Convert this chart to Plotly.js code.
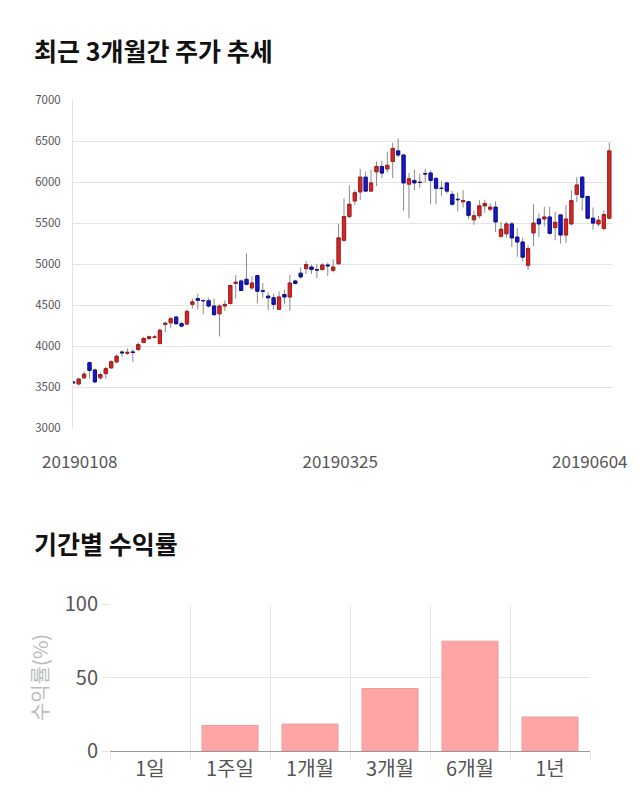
<!DOCTYPE html>
<html>
<head>
<meta charset="utf-8">
<script src="https://cdn.plot.ly/plotly-3.0.1.min.js"></script>
<style>
html,body{margin:0;padding:0;background:#fff;}
#chart{width:640px;height:810px;}
</style>
</head>
<body>
<div id="chart"></div>
<script>
// ---- Stock candles (last 3 months) ----
const dates = [
 '20190108','20190109','20190110','20190111','20190114','20190115','20190116','20190117','20190118','20190121',
 '20190122','20190123','20190124','20190125','20190128','20190129','20190130','20190131','20190201','20190207',
 '20190208','20190211','20190212','20190213','20190214','20190215','20190218','20190219','20190220','20190221',
 '20190222','20190225','20190226','20190227','20190228','20190304','20190305','20190306','20190307','20190308',
 '20190311','20190312','20190313','20190314','20190315','20190318','20190319','20190320','20190321','20190322',
 '20190325','20190326','20190327','20190328','20190329','20190401','20190402','20190403','20190404','20190405',
 '20190408','20190409','20190410','20190411','20190412','20190415','20190416','20190417','20190418','20190419',
 '20190422','20190423','20190424','20190425','20190426','20190429','20190430','20190502','20190503','20190507',
 '20190508','20190509','20190510','20190513','20190514','20190515','20190516','20190517','20190520','20190521',
 '20190522','20190523','20190524','20190527','20190528','20190529','20190530','20190531','20190603','20190604'
];
const openP = [
 3565,3540,3615,3800,3710,3615,3666,3736,3809,3930,
 3915,3930,3960,4045,4095,4110,4033,4265,4285,4355,
 4275,4270,4510,4580,4558,4555,4490,4395,4490,4520,
 4765,4795,4815,4710,4860,4675,4610,4590,4450,4630,
 4600,4795,4890,4945,4965,4932,4935,4990,4925,5005,
 5290,5580,5770,5880,6060,5890,6125,6190,6160,6250,
 6380,6330,5975,6020,5998,6105,6110,6045,5925,5990,
 5850,5790,5760,5760,5540,5590,5710,5670,5695,5340,
 5370,5490,5330,5270,4985,5380,5550,5550,5575,5445,
 5600,5355,5490,5850,6060,5825,5560,5490,5435,5560
];
const highP = [
 3575,3615,3690,3810,3730,3680,3750,3830,3900,3950,
 3975,3970,4050,4115,4130,4135,4215,4300,4360,4370,
 4300,4445,4580,4640,4565,4590,4580,4510,4560,4750,
 4870,4815,5130,4850,4860,4770,4660,4640,4670,4690,
 4870,4810,4960,5040,4995,5000,5010,5020,5060,5490,
 5800,5960,5905,6160,6130,6150,6250,6260,6370,6480,
 6530,6330,6110,6150,6100,6160,6140,6060,6010,6010,
 5890,5870,5900,5770,5650,5780,5785,5740,5765,5515,
 5515,5515,5440,5320,5230,5730,5620,5700,5700,5635,
 5600,5720,5900,6060,6075,5825,5690,5590,5655,6480
];
const lowP = [
 3550,3525,3600,3605,3560,3590,3605,3725,3790,3870,
 3895,3810,3940,4035,4075,4095,4020,4170,4220,4260,
 4230,4260,4460,4450,4390,4470,4370,4120,4430,4510,
 4580,4675,4740,4690,4520,4590,4440,4450,4440,4510,
 4430,4750,4820,4880,4880,4830,4920,4855,4900,4995,
 5280,5560,5720,5780,5880,5880,5950,6050,6120,6050,
 6300,5650,5560,5900,5930,5995,5730,5730,5830,5860,
 5710,5640,5690,5550,5480,5560,5625,5645,5390,5320,
 5320,5210,5090,5035,4930,5220,5330,5460,5360,5290,
 5250,5260,5480,5760,5650,5545,5420,5460,5410,5555
];
const closeP = [
 3555,3600,3660,3705,3565,3655,3727,3810,3878,3920,
 3925,3925,4020,4095,4115,4112,4195,4280,4335,4275,
 4245,4425,4540,4560,4555,4490,4385,4490,4510,4740,
 4780,4680,4755,4770,4670,4670,4590,4510,4600,4600,
 4770,4765,4845,4995,4935,4930,4990,4980,4965,5320,
 5580,5730,5870,6060,5890,5990,6190,6110,6205,6410,
 6330,5990,6040,5990,5995,6100,6020,5925,5922,5890,
 5730,5786,5775,5595,5590,5710,5740,5695,5515,5425,
 5490,5320,5270,5085,5190,5500,5490,5575,5375,5510,
 5355,5550,5775,5965,5815,5560,5500,5535,5605,6380
];
const xTickDates = ['20190108','20190325','20190604'];

// ---- Period returns ----
const periods = ['1일','1주일','1개월','3개월','6개월','1년'];
const returnsPct = [0, 17.4, 18.3, 42.5, 74.7, 23.1];

// body-only bounds derived from open/close (so wicks can be grey underneath)
const bodyHigh = openP.map((o,i)=>Math.max(o, closeP[i]));
const bodyLow  = openP.map((o,i)=>Math.min(o, closeP[i]));

const W = 640, H = 810;
const px = (a,b)=>[a/W, b/W];
const py = (top,bottom)=>[(H-bottom)/H, (H-top)/H];

const wickTrace = {
  type:'candlestick', x:dates, open:openP, high:highP, low:lowP, close:closeP,
  xaxis:'x', yaxis:'y', hoverinfo:'skip', showlegend:false,
  increasing:{line:{color:'#8a8a8a', width:1}, fillcolor:'#8a8a8a'},
  decreasing:{line:{color:'#8a8a8a', width:1}, fillcolor:'#8a8a8a'},
  whiskerwidth:0
};
const bodyTrace = {
  type:'candlestick', x:dates, open:openP, high:bodyHigh, low:bodyLow, close:closeP,
  xaxis:'x', yaxis:'y', showlegend:false,
  increasing:{line:{color:'#a81c1c', width:1}, fillcolor:'#d82626'},
  decreasing:{line:{color:'#0e0e98', width:1}, fillcolor:'#1818c8'},
  whiskerwidth:0
};
const barTrace = {
  type:'bar', x:periods, y:returnsPct, xaxis:'x2', yaxis:'y2', showlegend:false,
  marker:{color:'#ffa5a5', line:{color:'#ee9a9a', width:returnsPct.map(v=>v>0?1:0)}},
  width:0.7
};

const kr = '"Noto Sans CJK KR", "Noto Sans", sans-serif';

const layout = {
  width:W, height:H,
  margin:{l:0, r:0, t:0, b:0},
  paper_bgcolor:'#fff', plot_bgcolor:'#fff',
  font:{family:kr, color:'#555'},
  boxgap:0.15,
  showlegend:false,
  xaxis:{
    domain:px(73, 612),
    type:'category',
    range:[-0.05, 99.5],
    rangeslider:{visible:false},
    showgrid:false, zeroline:false, showline:false,
    tickmode:'array',
    tickvals:[1.2, 49.3, 95.4],
    ticktext:xTickDates,
    ticks:'', ticklabelstandoff:22,
    tickfont:{family:kr, size:17, color:'#555'},
    fixedrange:true
  },
  yaxis:{
    domain:py(100, 428.3),
    range:[3000, 7000],
    tickmode:'array',
    tickvals:[3000,3500,4000,4500,5000,5500,6000,6500,7000],
    showgrid:true, gridcolor:'#e3e3e3', gridwidth:1,
    zeroline:false, showline:true, linecolor:'#e3e3e3', linewidth:1,
    ticks:'', ticklabelstandoff:9,
    tickfont:{family:kr, size:11.5, color:'#555'},
    fixedrange:true
  },
  xaxis2:{
    domain:px(110, 590),
    anchor:'y2',
    type:'category',
    tickson:'boundaries',
    showgrid:true, gridcolor:'#e6e6e6',
    ticks:'outside', ticklen:8, tickcolor:'#e6e6e6',
    showline:true, linecolor:'#999', linewidth:1,
    tickfont:{family:kr, size:20, color:'#555'},
    fixedrange:true
  },
  yaxis2:{
    domain:py(604, 751),
    anchor:'x2',
    range:[0, 100],
    tickmode:'array', tickvals:[0,50,100],
    showgrid:true, gridcolor:'#e3e3e3',
    zeroline:false, showline:false,
    ticks:'outside', ticklen:7, tickcolor:'#e3e3e3',
    tickfont:{family:kr, size:20, color:'#555'},
    title:{text:'수익률(%)', standoff:10, font:{family:kr, size:20, color:'#bbb'}},
    fixedrange:true
  },
  annotations:[
    {text:'최근 3개월간 주가 추세', xref:'paper', yref:'paper', x:32/W, y:(H-50)/H,
     xanchor:'left', yanchor:'middle', showarrow:false,
     font:{family:kr, size:25, color:'#111', weight:'bold'}},
    {text:'기간별 수익률', xref:'paper', yref:'paper', x:32/W, y:(H-543)/H,
     xanchor:'left', yanchor:'middle', showarrow:false,
     font:{family:kr, size:25, color:'#111', weight:'bold'}}
  ]
};

Plotly.newPlot('chart', [wickTrace, bodyTrace, barTrace], layout, {displayModeBar:false, staticPlot:true});
</script>
</body>
</html>
